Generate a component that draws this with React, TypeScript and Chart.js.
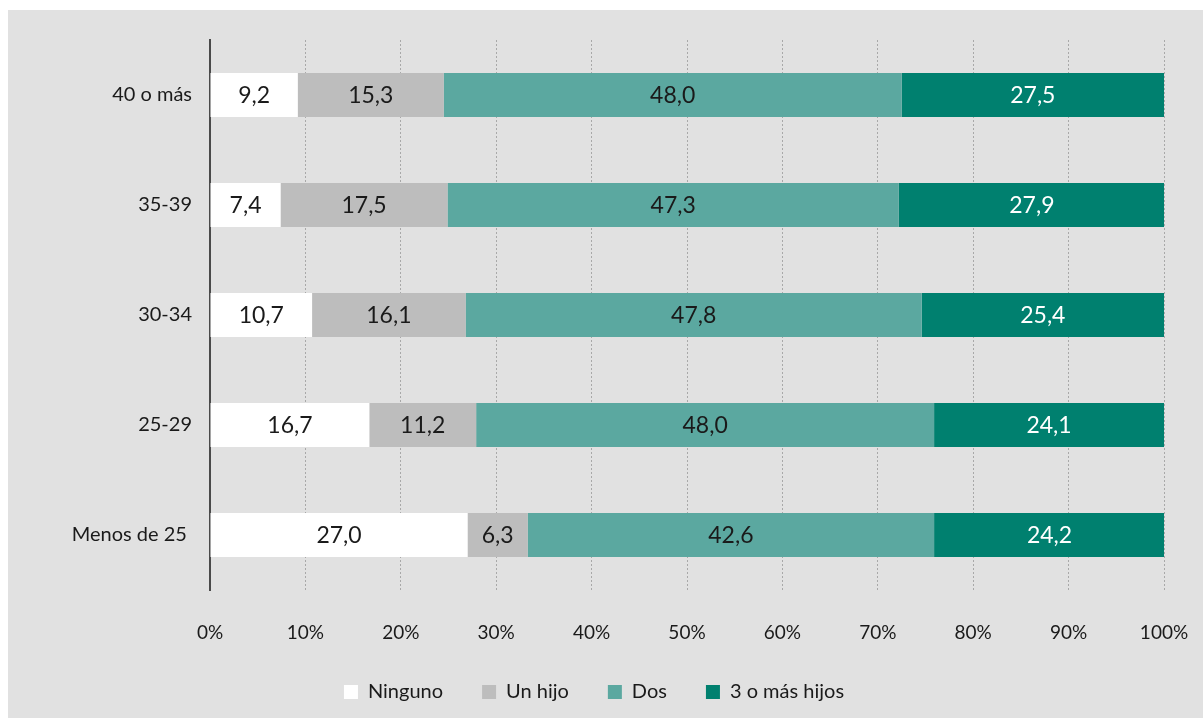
import { useEffect, useRef } from "react";
import { Chart, registerables } from "chart.js";

Chart.register(...registerables);

const categories = ["40 o más", "35-39", "30-34", "25-29", "Menos de 25 "];
const seriesNames = ["Ninguno", "Un hijo", "Dos", "3 o más hijos"];
const ninguno = [9.2, 7.4, 10.7, 16.7, 27.0];
const unHijo = [15.3, 17.5, 16.1, 11.2, 6.3];
const dos = [48.0, 47.3, 47.8, 48.0, 42.6];
const tresOMas = [27.5, 27.9, 25.4, 24.1, 24.2];
const seriesColors = ["#ffffff", "#bdbdbd", "#5ba8a0", "#00806f"];
const labelColors = ["#1a1a1a", "#1a1a1a", "#1a1a1a", "#ffffff"];

const FONT = "Lato, 'Noto Sans', sans-serif";

const valueLabels = {
  id: "valueLabels",
  afterDatasetsDraw(chart: any) {
    const ctx = chart.ctx;
    ctx.save();
    ctx.font = `23px ${FONT}`;
    ctx.textAlign = "center";
    ctx.textBaseline = "middle";
    chart.data.datasets.forEach((ds: any, di: number) => {
      const meta = chart.getDatasetMeta(di);
      meta.data.forEach((el: any, i: number) => {
        const v = ds.data[i] as number;
        ctx.fillStyle = labelColors[di];
        ctx.fillText(v.toFixed(1).replace(".", ","), (el.x + el.base) / 2, el.y + 1);
      });
    });
    ctx.restore();
  },
};

export default function App() {
  const ref = useRef<HTMLCanvasElement>(null);
  useEffect(() => {
    const allSeries = [ninguno, unHijo, dos, tresOMas];
    const chart = new Chart(ref.current!, {
      type: "bar",
      data: {
        labels: categories,
        datasets: allSeries.map((d, i) => ({
          label: seriesNames[i],
          data: d,
          backgroundColor: seriesColors[i],
          borderWidth: 0,
          barPercentage: 0.4,
          categoryPercentage: 1,
        })),
      },
      options: {
        indexAxis: "y",
        responsive: false,
        animation: false,
        layout: { padding: { left: 16, right: 39, top: 30, bottom: 6 } },
        scales: {
          x: {
            stacked: true,
            min: 0,
            max: 100,
            afterFit: (s: any) => {
              s.height = 53;
              s.paddingLeft = 0;
              s.paddingRight = 0;
            },
            ticks: {
              stepSize: 10,
              padding: 31,
              color: "#1a1a1a",
              font: { family: FONT, size: 19 },
              callback: (v: any) => `${v}%`,
            },
            grid: {
              drawTicks: false,
              color: (c: any) => (c.tick && c.tick.value === 0 ? "rgba(0,0,0,0)" : "#a8a8a8"),
              lineWidth: 1,
            },
            border: { display: false, dash: [2, 2] },
          },
          y: {
            stacked: true,
            afterFit: (s: any) => {
              s.width = 186;
            },
            ticks: {
              padding: 18,
              color: "#1a1a1a",
              font: { family: FONT, size: 20 },
            },
            grid: { display: false, drawTicks: false },
            border: { display: true, color: "#4a4a4a", width: 2 },
          },
        },
        plugins: {
          legend: {
            position: "bottom",
            labels: {
              boxWidth: 14,
              boxHeight: 14,
              padding: 39,
              color: "#1a1a1a",
              font: { family: FONT, size: 20 },
            },
          },
          tooltip: { enabled: false },
        },
      } as any,
      plugins: [valueLabels],
    });
    return () => chart.destroy();
  }, []);
  return (
    <div
      style={{
        position: "absolute",
        left: 8,
        top: 10,
        width: 1195,
        height: 708,
        background: "#e1e1e1",
      }}
    >
      <canvas ref={ref} width={1195} height={708} style={{ display: "block", width: 1195, height: 708 }} />
    </div>
  );
}
